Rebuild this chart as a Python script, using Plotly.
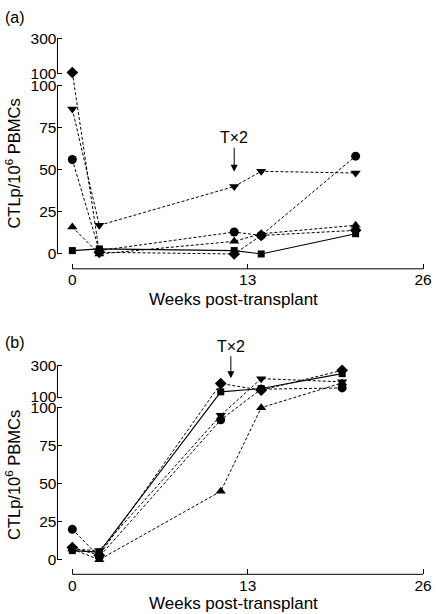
import plotly.graph_objects as go

# ---------------- data ----------------
weeks_a = [0, 2, 12, 14, 21]
a_square = [2, 3, 2, 0, 12]
a_circle = [56, 2, 13, 11, 58]
a_diamond = [106, 1, 0, 11, 14]
a_tri_up = [16, 0, 7.5, 12, 17]
a_tri_down = [86, 17, 40, 49, 48]

weeks_b = [0, 2, 11, 14, 20]
b_square = [6, 5, 133, 154, 249]
b_circle = [20, 2, 92, 150, 158]
b_diamond = [8, 3, 186, 144, 270]
b_tri_up = [7, 0, 45, 100, 190]
b_tri_down = [7, 6, 95, 217, 197]

x_ticks = [0, 13, 26]
y_tick_values = [0, 25, 50, 75, 100, 100, 300]
y_tick_labels = ["0", "25", "50", "75", "100", "100", "300"]

tx2_a = (12, 48.8)      # arrow tip (week, value)
tx2_b = (11.75, 220)

# ---------------- broken-axis scale ----------------
GAP_START = 107.0      # display position of the upper-segment "100"
UPPER_SCALE = 0.1032   # display units per value unit above 100


def brk(v):
    if v is None:
        return None
    if v <= 100:
        return v
    return GAP_START + (v - 100) * UPPER_SCALE


def brk_tick(i, v):
    # the second "100" belongs to the upper segment
    if i == 5:
        return GAP_START
    return brk(v)


tick_disp = [brk_tick(i, v) for i, v in enumerate(y_tick_values)]

FONT = "Liberation Sans, Arial, Helvetica, sans-serif"
W, H = 436, 614

fig = go.Figure()

series_a = [
    (a_circle, "circle", 9, "dash"),
    (a_diamond, "diamond", 9, "dash"),
    (a_tri_up, "triangle-up", 9, "dash"),
    (a_tri_down, "triangle-down", 9, "dash"),
    (a_square, "square", 7, "solid"),
]
series_b = [
    (b_circle, "circle", 9, "dash"),
    (b_diamond, "diamond", 9, "dash"),
    (b_tri_up, "triangle-up", 9, "dash"),
    (b_tri_down, "triangle-down", 9, "dash"),
    (b_square, "square", 7, "solid"),
]

for weeks, series, xa, ya in [(weeks_a, series_a, "x", "y"), (weeks_b, series_b, "x2", "y2")]:
    for vals, sym, size, dash in series:
        fig.add_trace(go.Scatter(
            x=weeks, y=[brk(v) for v in vals], customdata=vals,
            hovertemplate="week %{x}: %{customdata}<extra></extra>",
            mode="lines+markers", xaxis=xa, yaxis=ya, cliponaxis=False,
            line=dict(color="black", width=1.1 if dash == "solid" else 1,
                      dash="solid" if dash == "solid" else "3px,2px"),
            marker=dict(symbol=sym, size=size, color="black", line=dict(width=0)),
            showlegend=False,
        ))

px_per_week = 354 / 26.0
x_range = [-15 / px_per_week, 26 + 5 / px_per_week]

TICK_SIZE = 15.5
axis_common = dict(showgrid=False, zeroline=False, showline=False,
                   ticks="inside", ticklen=5, tickwidth=1, tickcolor="black",
                   ticklabeloverflow="allow",
                   tickfont=dict(family=FONT, size=TICK_SIZE, color="black"))

fig.update_layout(
    width=W, height=H,
    margin=dict(l=0, r=0, t=0, b=0),
    paper_bgcolor="white", plot_bgcolor="white",
    xaxis=dict(domain=[58 / W, 432 / W], range=x_range, tickvals=x_ticks,
               anchor="y", **axis_common),
    yaxis=dict(domain=[1 - 266 / H, 1 - 30 / H], range=[-8.82, 130.0],
               tickvals=tick_disp, ticktext=y_tick_labels, anchor="x", **axis_common),
    xaxis2=dict(domain=[58 / W, 432 / W], range=x_range, tickvals=x_ticks,
                anchor="y2", **axis_common),
    yaxis2=dict(domain=[1 - 574 / H, 1 - 360 / H], range=[-9.59, 130.0],
                tickvals=tick_disp, ticktext=y_tick_labels, anchor="x2", **axis_common),
)

shapes = []
for xref, yref in [("x", "y"), ("x2", "y2")]:
    # x axis line from week 0 to week 26
    shapes.append(dict(type="line", xref=xref, yref=yref + " domain",
                       x0=0, x1=26, y0=0, y1=0, line=dict(color="black", width=1)))
    # broken y axis: lower and upper segments
    shapes.append(dict(type="line", xref=xref + " domain", yref=yref,
                       x0=0, x1=0, y0=0, y1=100, line=dict(color="black", width=1)))
    shapes.append(dict(type="line", xref=xref + " domain", yref=yref,
                       x0=0, x1=0, y0=GAP_START, y1=brk(300), line=dict(color="black", width=1)))
fig.update_layout(shapes=shapes)

annotations = [
    dict(text="(a)", x=3 / W, y=1 - 13 / H, xref="paper", yref="paper",
         xanchor="left", yanchor="middle", showarrow=False,
         font=dict(family=FONT, size=16, color="black")),
    dict(text="(b)", x=3 / W, y=1 - 340 / H, xref="paper", yref="paper",
         xanchor="left", yanchor="middle", showarrow=False,
         font=dict(family=FONT, size=16, color="black")),
    dict(text="CTLp/10<sup>6</sup> PBMCs", x=13 / W, y=1 - 160 / H, xref="paper", yref="paper",
         textangle=-90, xanchor="center", yanchor="middle", showarrow=False,
         font=dict(family=FONT, size=16.5, color="black")),
    dict(text="CTLp/10<sup>6</sup> PBMCs", x=13 / W, y=1 - 474 / H, xref="paper", yref="paper",
         textangle=-90, xanchor="center", yanchor="middle", showarrow=False,
         font=dict(family=FONT, size=16.5, color="black")),
    dict(text="Weeks post-transplant", x=236 / W, y=1 - 297 / H, xref="paper", yref="paper",
         xanchor="center", yanchor="middle", showarrow=False,
         font=dict(family=FONT, size=17, color="black")),
    dict(text="Weeks post-transplant", x=236 / W, y=1 - 603 / H, xref="paper", yref="paper",
         xanchor="center", yanchor="middle", showarrow=False,
         font=dict(family=FONT, size=17, color="black")),
    dict(text="T×2", x=tx2_a[0], y=brk(tx2_a[1]), xref="x", yref="y",
         showarrow=True, ax=0, ay=-34, arrowhead=2, arrowsize=1.4, arrowwidth=1,
         arrowcolor="black", font=dict(family=FONT, size=16, color="black")),
    dict(text="T×2", x=tx2_b[0], y=brk(tx2_b[1]), xref="x2", yref="y2",
         showarrow=True, ax=0, ay=-32, arrowhead=2, arrowsize=1.4, arrowwidth=1,
         arrowcolor="black", font=dict(family=FONT, size=16, color="black")),
]
fig.update_layout(annotations=annotations)

fig.write_html("out.html", config={"displayModeBar": False},
               post_script="document.body.style.margin='0';")
